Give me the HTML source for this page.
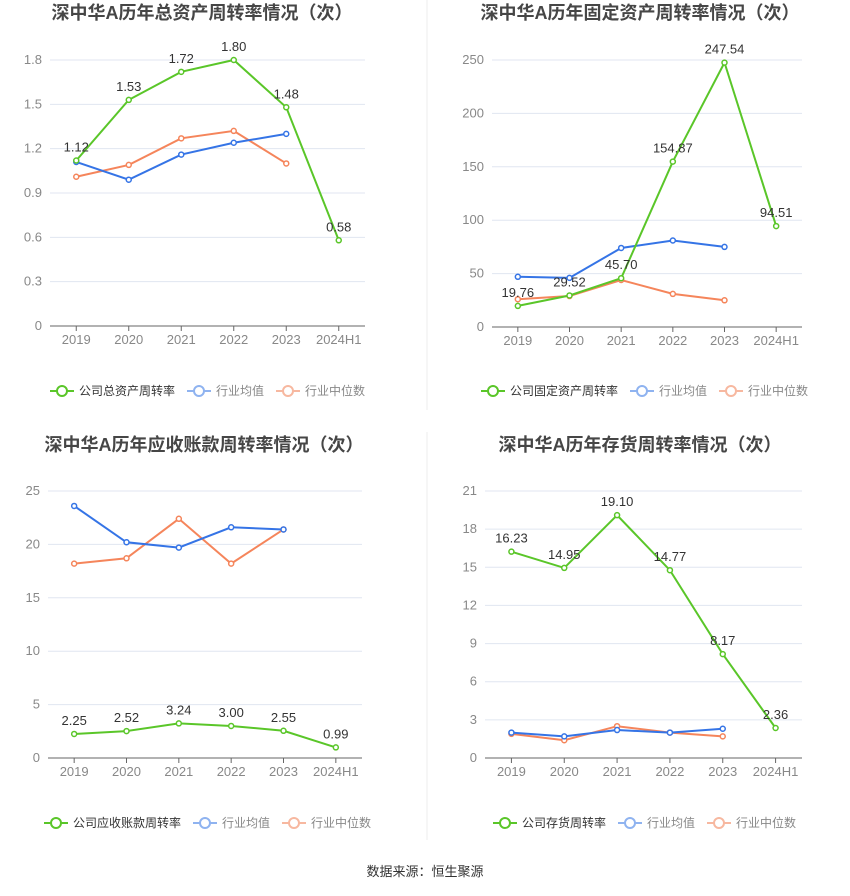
<!DOCTYPE html>
<html><head><meta charset="utf-8"><style>
body{margin:0;background:#fff;font-family:"Liberation Sans","Noto Sans CJK SC",sans-serif}
svg text{font-family:"Liberation Sans","Noto Sans CJK SC",sans-serif}
</style></head><body>
<svg id="s" width="850" height="891">
<line x1="427" y1="0" x2="427" y2="410" stroke="#eee"/>
<line x1="427" y1="432" x2="427" y2="840" stroke="#eee"/>
<text x="425" y="876" text-anchor="middle" font-size="13" fill="#333">数据来源：恒生聚源</text>
</svg>
<script>
const categories=["2019","2020","2021","2022","2023","2024H1"];
const c1Company=[1.12,1.53,1.72,1.80,1.48,0.58];
const c1Avg=[1.11,0.99,1.16,1.24,1.30];
const c1Med=[1.01,1.09,1.27,1.32,1.10];
const c1Ticks=[0,0.3,0.6,0.9,1.2,1.5,1.8];
const c2Company=[19.76,29.52,45.70,154.87,247.54,94.51];
const c2Avg=[47,46,74,81,75];
const c2Med=[26,29,44,31,25];
const c2Ticks=[0,50,100,150,200,250];
const c3Company=[2.25,2.52,3.24,3.00,2.55,0.99];
const c3Avg=[23.6,20.2,19.7,21.6,21.4];
const c3Med=[18.2,18.7,22.4,18.2,21.4];
const c3Ticks=[0,5,10,15,20,25];
const c4Company=[16.23,14.95,19.10,14.77,8.17,2.36];
const c4Avg=[2.0,1.7,2.2,2.0,2.3];
const c4Med=[1.9,1.4,2.5,2.0,1.7];
const c4Ticks=[0,3,6,9,12,15,18,21];
const NS="http://www.w3.org/2000/svg";
const svg=document.getElementById('s');
function mk(tag,attrs,parent){const e=document.createElementNS(NS,tag);for(const k in attrs)e.setAttribute(k,attrs[k]);(parent||svg).appendChild(e);return e;}
function chart(o){
 const g=mk('g',{});
 
 
 const t=mk('text',{x:o.cx,y:o.ty,'text-anchor':'middle','font-size':18,'font-weight':'bold',fill:'#464646'},g);
 
 
 t.textContent=o.title;
 const max=o.ticks[o.ticks.length-1];
 const y=v=>o.y0-(v/max)*(o.y0-o.yTop);
 const bw=(o.x1-o.x0)/categories.length;
 const x=i=>o.x0+bw*(i+0.5);
 o.ticks.forEach(tv=>{
  const ln=mk('line',{x1:o.x0,x2:o.x1,y1:y(tv),y2:y(tv),stroke:tv===0?'#666':'#e0e6f1'},g);
  
  
  const tl=mk('text',{x:o.x0-8,y:y(tv)+4,'text-anchor':'end','font-size':13,fill:'#888'},g);
  
  
  tl.textContent=String(tv);
 });
 categories.forEach((c,i)=>{
  const tk=mk('line',{x1:x(i),x2:x(i),y1:o.y0,y2:o.y0+5,stroke:'#666'},g);
  
  
  const xl=mk('text',{x:x(i),y:o.y0+18,'text-anchor':'middle','font-size':13,fill:'#888'},g);
  
  
  xl.textContent=c;
 });
 const series=[[o.med,'#f5855b','median-line'],[o.avg,'#3574e6','average-line'],[o.comp,'#5ac629','company-line']];
 series.forEach(([d,col,nm])=>{
  const p=mk('polyline',{points:d.map((v,i)=>x(i)+','+y(v)).join(' '),fill:'none',stroke:col,'stroke-width':2},g);
  
  
  d.forEach((v,i)=>{
   const c=mk('circle',{cx:x(i),cy:y(v),r:2.5,fill:'#fff',stroke:col,'stroke-width':1.5},g);
   
   
  });
 });
 o.comp.forEach((v,i)=>{
  const l=mk('text',{x:x(i),y:y(v)-9,'text-anchor':'middle','font-size':13,fill:'#333'},g);
  
  
  l.textContent=v.toFixed(2);
 });
 const legend=[[o.compName,'#5ac629','#333'],['行业均值','#8fb3f0','#888'],['行业中位数','#f7b8a0','#888']];
 let lx=o.lx;
 legend.forEach(([n,col,tc])=>{
  const lg=mk('g',{},g);
  
  
  mk('line',{x1:lx,x2:lx+24,y1:o.ly,y2:o.ly,stroke:col,'stroke-width':2},lg);
  mk('circle',{cx:lx+12,cy:o.ly,r:5,fill:'#fff',stroke:col,'stroke-width':2},lg);
  const tt=mk('text',{x:lx+29,y:o.ly+4,'font-size':12,fill:tc},lg);
  tt.textContent=n;
  lx+=29+n.length*12+12;
 });
}
chart({name:'total-asset-turnover-chart',title:'深中华A历年总资产周转率情况（次）',cx:202,ty:19,x0:50,x1:365,y0:326,yTop:60,ticks:c1Ticks,comp:c1Company,avg:c1Avg,med:c1Med,compName:'公司总资产周转率',lx:50,ly:391});
chart({name:'fixed-asset-turnover-chart',title:'深中华A历年固定资产周转率情况（次）',cx:640,ty:19,x0:492,x1:802,y0:327,yTop:60,ticks:c2Ticks,comp:c2Company,avg:c2Avg,med:c2Med,compName:'公司固定资产周转率',lx:481,ly:391});
chart({name:'receivables-turnover-chart',title:'深中华A历年应收账款周转率情况（次）',cx:204,ty:451,x0:48,x1:362,y0:758,yTop:491,ticks:c3Ticks,comp:c3Company,avg:c3Avg,med:c3Med,compName:'公司应收账款周转率',lx:44,ly:823});
chart({name:'inventory-turnover-chart',title:'深中华A历年存货周转率情况（次）',cx:640,ty:451,x0:485,x1:802,y0:758,yTop:491,ticks:c4Ticks,comp:c4Company,avg:c4Avg,med:c4Med,compName:'公司存货周转率',lx:493,ly:823});
</script>
</body></html>
